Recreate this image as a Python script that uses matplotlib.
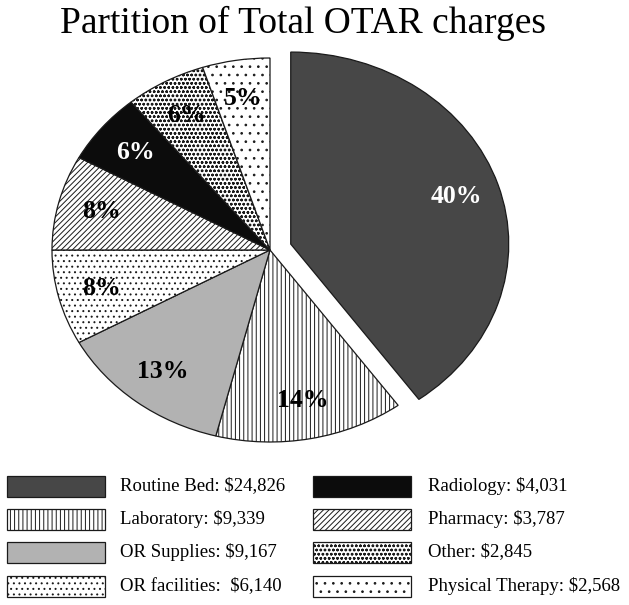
import matplotlib
matplotlib.use("Agg")
import matplotlib.pyplot as plt
from matplotlib.patches import Rectangle

plt.rcParams['font.family'] = ['Liberation Serif', 'DejaVu Serif']
plt.rcParams['hatch.linewidth'] = 0.7

# data
categories = ["Routine Bed", "Laboratory", "OR Supplies", "OR facilities",
              "Pharmacy", "Radiology", "Other", "Physical Therapy"]
percent = [40, 14, 13, 8, 8, 6, 6, 5]
charges = [24826, 9339, 9167, 6140, 3787, 4031, 2845, 2568]

# styles, same order as categories
faces = ["#474747", "white", "#b2b2b2", "white", "white", "#0c0c0c", "white", "white"]
hatches = [None, "||||", None, "...", "//////", None, "oooo", ".."]
label_colors = ["white", "black", "black", "black", "black", "white", "black", "black"]
explode = [0.1, 0, 0, 0, 0, 0, 0, 0]

# legend arrangement: two columns of four
legend_cols = [["Routine Bed", "Laboratory", "OR Supplies", "OR facilities"],
               ["Radiology", "Pharmacy", "Other", "Physical Therapy"]]

W, H = 629, 605
fig = plt.figure(figsize=(W / 100, H / 100), dpi=100)

# pie is a bit wider than tall in the reference
rx, ry = 218, 192
cx, cy = 270, 250
xl, yl = (-1.2, 1.4), (-1.2, 1.2)
left = cx - (-xl[0]) * rx
bottom = (H - cy) - (-yl[0]) * ry
ax = fig.add_axes([left / W, bottom / H, (xl[1] - xl[0]) * rx / W, (yl[1] - yl[0]) * ry / H])

wedges, texts, autotexts = ax.pie(
    percent, explode=explode, startangle=90, counterclock=False,
    colors=faces, autopct='%.0f%%', pctdistance=0.8,
    wedgeprops=dict(edgecolor="#1a1a1a", linewidth=0.9),
    textprops=dict(fontsize=18.5, fontweight='bold'))
for w, h in zip(wedges, hatches):
    if h:
        w.set_hatch(h)
for t, c in zip(autotexts, label_colors):
    t.set_color(c)
ax.set_aspect('auto')
ax.set_xlim(*xl)
ax.set_ylim(*yl)
ax.axis('off')

fig.text(303 / W, 1 - 33 / H, "Partition of Total OTAR charges",
         ha='center', va='baseline', fontsize=27)

# legend drawn in pixel coordinates
lax = fig.add_axes([0, 0, 1, 1])
lax.set_xlim(0, W)
lax.set_ylim(H, 0)
lax.axis('off')
col_x = [(7, 120), (313, 428)]
row_y = [486, 519, 552, 586]
for (sx, tx), names in zip(col_x, legend_cols):
    for ry_, name in zip(row_y, names):
        i = categories.index(name)
        lax.add_patch(Rectangle((sx, ry_ - 10.5), 98, 21, facecolor=faces[i],
                                hatch=hatches[i], edgecolor="#1a1a1a", linewidth=0.9))
        gap = "  " if name == "OR facilities" else " "
        lax.text(tx, ry_, f"{name}:{gap}${charges[i]:,}", va='center', ha='left',
                 fontsize=13.5)

fig.savefig("out.png", dpi=100)
